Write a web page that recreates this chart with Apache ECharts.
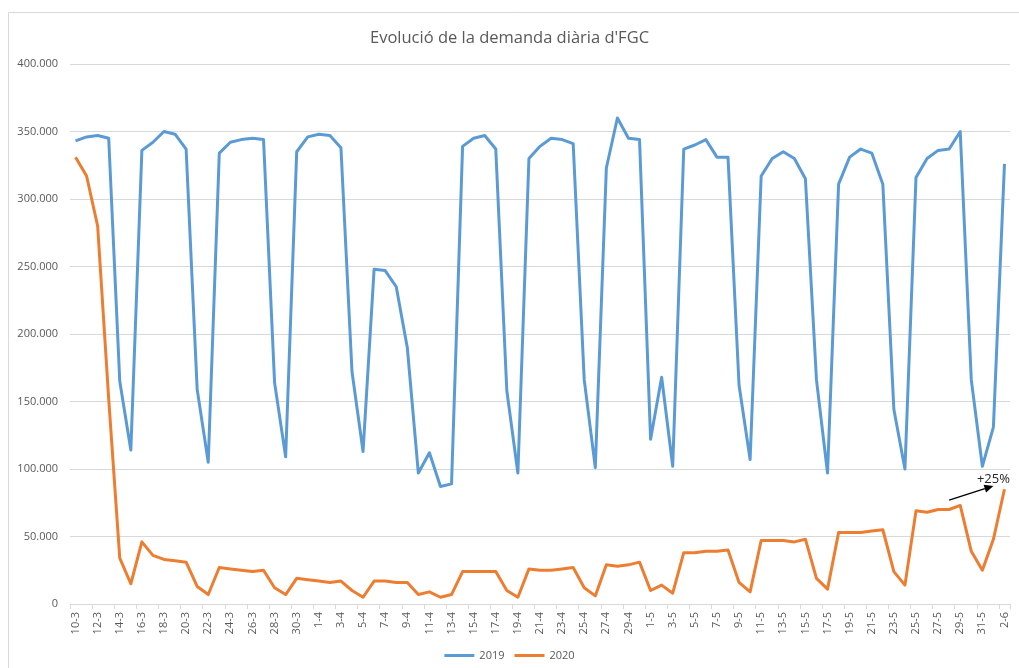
<!DOCTYPE html>
<html>
<head>
<meta charset="utf-8">
<script src="https://cdn.jsdelivr.net/npm/echarts@6/dist/echarts.min.js"></script>
<style>
html,body{margin:0;padding:0;background:#fff;}
#chart{width:1019px;height:668px;}
</style>
</head>
<body>
<div id="chart"></div>
<script>
const categories = ['10-3','11-3','12-3','13-3','14-3','15-3','16-3','17-3','18-3','19-3','20-3','21-3','22-3','23-3','24-3','25-3','26-3','27-3','28-3','29-3','30-3','31-3',
'1-4','2-4','3-4','4-4','5-4','6-4','7-4','8-4','9-4','10-4','11-4','12-4','13-4','14-4','15-4','16-4','17-4','18-4','19-4','20-4','21-4','22-4','23-4','24-4','25-4','26-4','27-4','28-4','29-4','30-4',
'1-5','2-5','3-5','4-5','5-5','6-5','7-5','8-5','9-5','10-5','11-5','12-5','13-5','14-5','15-5','16-5','17-5','18-5','19-5','20-5','21-5','22-5','23-5','24-5','25-5','26-5','27-5','28-5','29-5','30-5','31-5',
'1-6','2-6'];

const values2019 = [343000,346000,347000,345000,165000,114000,336000,342000,350000,348000,
337000,159000,105000,334000,342000,344000,345000,344000,164000,109000,
335000,346000,348000,347000,338000,172000,113000,248000,247000,235000,
190000,97000,112000,87000,89000,339000,345000,347000,337000,158000,
97000,330000,339000,345000,344000,341000,166000,101000,323000,360000,
345000,344000,122000,168000,102000,337000,340000,344000,331000,331000,
162000,107000,317000,330000,335000,330000,315000,166000,97000,311000,
331000,337000,334000,311000,144000,100000,316000,330000,336000,337000,
350000,166000,102000,131000,326000];

const values2020 = [331000,317000,280000,152000,34000,15000,46000,36000,33000,32000,
31000,13000,7000,27000,26000,25000,24000,25000,12000,7000,
19000,18000,17000,16000,17000,10000,5000,17000,17000,16000,
16000,7000,9000,5000,7000,24000,24000,24000,24000,10000,
5000,26000,25000,25000,26000,27000,12000,6000,29000,28000,
29000,31000,10000,14000,8000,38000,38000,39000,39000,40000,
16000,9000,47000,47000,47000,46000,48000,19000,11000,53000,
53000,53000,54000,55000,24000,14000,69000,68000,70000,70000,
73000,39000,25000,48000,85000];

const seriesNames = ['2019','2020'];
const titleText = "Evolució de la demanda diària d'FGC";
const annotationText = '+25%';

const FONT = '"Open Sans", "Noto Sans", sans-serif';
const chart = echarts.init(document.getElementById('chart'), null, {renderer:'canvas'});

function fmt(v){
  if (v === 0) return '0';
  const s = String(Math.round(v));
  return s.replace(/\B(?=(\d{3})+(?!\d))/g, '.');
}

chart.setOption({
  animation:false,
  backgroundColor:'#fff',
  title:{
    text:titleText,
    left:'center',
    top:25,
    textStyle:{fontFamily:FONT,fontSize:16.5,fontWeight:'normal',color:'#595959'}
  },
  legend:{
    data:seriesNames,
    bottom:2,
    left:'center',
    itemWidth:30,
    itemHeight:3,
    itemGap:10,
    icon:'rect',
    textStyle:{fontFamily:FONT,fontSize:11,color:'#595959'}
  },
  grid:{left:70,right:9,top:64,bottom:64,containLabel:false},
  xAxis:{
    type:'category',
    data:categories,
    boundaryGap:true,
    axisLine:{lineStyle:{color:'#d9d9d9',width:1}},
    axisTick:{show:true,interval:1,length:5,lineStyle:{color:'#d9d9d9'}},
    axisLabel:{interval:1,rotate:90,margin:8,fontFamily:FONT,fontSize:11,color:'#595959'},
    splitLine:{show:false}
  },
  yAxis:{
    type:'value',
    min:0,max:400000,interval:50000,
    axisLine:{show:false},
    axisTick:{show:false},
    axisLabel:{formatter:fmt,margin:12,fontFamily:FONT,fontSize:11,color:'#595959'},
    splitLine:{lineStyle:{color:'#d9d9d9',width:1}}
  },
  series:[
    {name:seriesNames[0],type:'line',data:values2019,symbol:'none',
     lineStyle:{color:'#5B9BD5',width:3,join:'round'},itemStyle:{color:'#5B9BD5'}},
    {name:seriesNames[1],type:'line',data:values2020,symbol:'none',
     lineStyle:{color:'#ED7D31',width:3,join:'round'},itemStyle:{color:'#ED7D31'}}
  ]
});

// annotation positioned in data space
const p0 = chart.convertToPixel({xAxisIndex:0,yAxisIndex:0},[79.3,77000]);
const p1 = chart.convertToPixel({xAxisIndex:0,yAxisIndex:0},[83.3,87500]);
const pt = chart.convertToPixel({xAxisIndex:0,yAxisIndex:0},[83.3,92500]);
const ang = Math.atan2(p1[1]-p0[1], p1[0]-p0[0]);
const hl = 9, hw = 4;
const bx = p1[0]-hl*Math.cos(ang), by = p1[1]-hl*Math.sin(ang);
const head = [
  [p1[0],p1[1]],
  [bx + hw*Math.sin(ang), by - hw*Math.cos(ang)],
  [bx - hw*Math.sin(ang), by + hw*Math.cos(ang)]
];
chart.setOption({
  graphic:[
    {type:'rect',shape:{x:8.5,y:12.5,width:1200,height:800},style:{fill:'none',stroke:'#d9d9d9',lineWidth:1},silent:true,z:-10},
    {type:'line',shape:{x1:p0[0],y1:p0[1],x2:bx,y2:by},style:{stroke:'#000',lineWidth:1.4},z:100},
    {type:'polygon',shape:{points:head},style:{fill:'#000'},z:100},
    {type:'text',x:pt[0],y:pt[1],style:{text:annotationText,fontFamily:FONT,fontSize:13,fill:'#262626',align:'center',verticalAlign:'middle'},z:100}
  ]
});
</script>
</body>
</html>
